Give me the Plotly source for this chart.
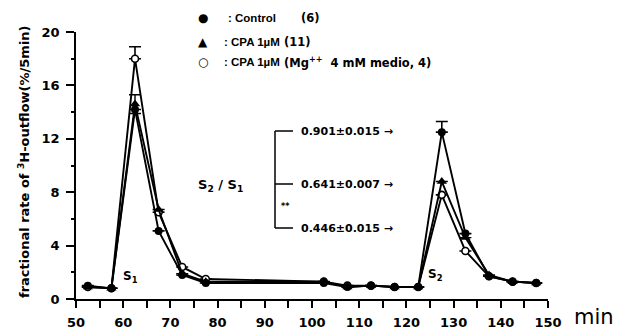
import plotly.graph_objects as go

# ---- data ----
times = [52.5, 57.5, 62.5, 67.5, 72.5, 77.5, 102.5, 107.5, 112.5, 117.5, 122.5, 127.5, 132.5, 137.5, 142.5, 147.5]
control = [1.0, 0.8, 14.2, 5.1, 1.8, 1.2, 1.2, 0.9, 1.0, 0.9, 0.9, 12.5, 4.9, 1.7, 1.3, 1.2]
cpa = [0.9, 0.8, 14.6, 6.7, 1.9, 1.3, 1.3, 0.9, 1.0, 0.9, 0.9, 8.8, 4.6, 1.8, 1.3, 1.2]
cpa_mg = [0.9, 0.8, 18.0, 6.5, 2.4, 1.5, 1.3, 1.0, 1.0, 0.9, 0.9, 7.8, 3.6, 1.7, 1.3, 1.2]
control_err = [0, 0, 0, 0, 0, 0, 0, 0, 0, 0, 0, 0.8, 0, 0, 0, 0]
cpa_err = [0, 0, 0.7, 0, 0, 0, 0, 0, 0, 0, 0, 0, 0, 0, 0, 0]
cpa_mg_err = [0, 0, 0.9, 0, 0, 0, 0, 0, 0, 0, 0, 0, 0, 0, 0, 0]

legend_labels = [": Control", ": CPA 1\u00b5M", ": CPA 1\u00b5M"]
legend_n = ["(6)", "(11)", "(Mg<sup>++</sup>  4 mM medio, 4)"]
ratio_labels = ["0.901\u00b10.015 \u2192", "0.641\u00b10.007 \u2192", "0.446\u00b10.015 \u2192"]

x_ticks = [50, 60, 70, 80, 90, 100, 110, 120, 130, 140, 150]
y_ticks = [0, 4, 8, 12, 16, 20]

FONT = "DejaVu Sans"
FONT2 = "Liberation Sans"
L, R, T, B = 76, 79, 32, 31
W, H = 627, 330
PW, PH = W - L - R, H - T - B


def px(x):
    return (x - L) / PW


def py(y):
    return (H - B - y) / PH


fig = go.Figure()

fig.add_trace(go.Scatter(
    x=times, y=cpa_mg, mode="lines+markers",
    line=dict(color="black", width=1.9),
    marker=dict(symbol="circle", size=7, color="white", line=dict(color="black", width=1.6)),
    error_y=dict(type="data", array=cpa_mg_err, arrayminus=[0] * len(times), color="black", thickness=1.6, width=6),
    showlegend=False, cliponaxis=False,
))
fig.add_trace(go.Scatter(
    x=times, y=cpa, mode="lines+markers",
    line=dict(color="black", width=1.9),
    marker=dict(symbol="triangle-up", size=9, color="black"),
    error_y=dict(type="data", array=cpa_err, color="black", thickness=1.4, width=6),
    showlegend=False, cliponaxis=False,
))
fig.add_trace(go.Scatter(
    x=times, y=control, mode="lines+markers",
    line=dict(color="black", width=1.9),
    marker=dict(symbol="circle", size=8, color="black"),
    error_y=dict(type="data", array=control_err, arrayminus=[0] * len(times), color="black", thickness=1.6, width=6),
    showlegend=False, cliponaxis=False,
))

ann = []
shapes = []

# legend
sym = ["\u25cf", "\u25b2", "\u25cb"]
rows = [18, 42, 62]
lab_x = [226, 222, 222]
n_x = [299, 282, 282]
for s, lab, n, yy, lx, nx in zip(sym, legend_labels, legend_n, rows, lab_x, n_x):
    ann.append(dict(x=px(203), y=py(yy), xref="paper", yref="paper", text="<b>" + s + "</b>", showarrow=False,
                    font=dict(family=FONT, size=12, color="black"), xanchor="center", yanchor="middle"))
    ann.append(dict(x=px(lx), y=py(yy), xref="paper", yref="paper", text="<b>" + lab + "</b>", showarrow=False,
                    font=dict(family=FONT2, size=11.5, color="black"), xanchor="left", yanchor="middle"))
    ann.append(dict(x=px(nx), y=py(yy), xref="paper", yref="paper", text="<b>" + n + "</b>", showarrow=False,
                    font=dict(family=FONT, size=11.5, color="black"), xanchor="left", yanchor="middle"))

# S2/S1 bracket
bx = 275
bys = [131, 184, 228]
shapes.append(dict(type="line", xref="paper", yref="paper", x0=px(bx), x1=px(bx), y0=py(bys[0]), y1=py(bys[-1]),
                   line=dict(color="black", width=1.5)))
for yy, lab in zip(bys, ratio_labels):
    shapes.append(dict(type="line", xref="paper", yref="paper", x0=px(bx), x1=px(293), y0=py(yy), y1=py(yy),
                       line=dict(color="black", width=1.5)))
    ann.append(dict(x=px(299), y=py(yy), xref="paper", yref="paper", text="<b>" + lab + "</b>", showarrow=False,
                    font=dict(family=FONT, size=11, color="black"), xanchor="left", yanchor="middle"))
ann.append(dict(x=px(279), y=py(206), xref="paper", yref="paper", text="<b>**</b>", showarrow=False,
                font=dict(family=FONT, size=8, color="black"), xanchor="left", yanchor="middle"))
ann.append(dict(x=px(220), y=py(185), xref="paper", yref="paper",
                text="<b>S<sub>2</sub> / S<sub>1</sub></b>", showarrow=False,
                font=dict(family=FONT, size=13, color="black"), xanchor="center", yanchor="middle"))

# S1, S2 markers
ann.append(dict(x=px(130), y=py(277), xref="paper", yref="paper", text="<b>S<sub>1</sub></b>", showarrow=False,
                font=dict(family=FONT, size=12, color="black"), xanchor="center", yanchor="middle"))
ann.append(dict(x=px(435), y=py(275), xref="paper", yref="paper", text="<b>S<sub>2</sub></b>", showarrow=False,
                font=dict(family=FONT, size=12, color="black"), xanchor="center", yanchor="middle"))

# axis titles
ann.append(dict(x=px(24), y=py(162), xref="paper", yref="paper",
                text="<b>fractional rate of <sup>3</sup>H-outflow(%/5min)</b>", showarrow=False, textangle=-90,
                font=dict(family=FONT, size=13, color="black"), xanchor="center", yanchor="middle"))
ann.append(dict(x=px(572), y=py(317), xref="paper", yref="paper", text="min", showarrow=False,
                font=dict(family=FONT, size=21, color="black"), xanchor="left", yanchor="middle"))

fig.update_layout(
    width=W, height=H,
    margin=dict(l=L, r=R, t=T, b=B),
    paper_bgcolor="white", plot_bgcolor="white",
    annotations=ann, shapes=shapes,
    xaxis=dict(range=[50, 150], tickvals=x_ticks, ticktext=["<b>%d</b>" % v for v in x_ticks],
               ticks="outside", ticklen=7, tickwidth=1.5, tickcolor="black", ticklabelstandoff=4,
               minor=dict(dtick=5, tick0=50, ticks="outside", ticklen=7, tickwidth=1.5, tickcolor="black"),
               showline=True, linecolor="black", linewidth=1.5, showgrid=False, zeroline=False,
               automargin=False,
               tickfont=dict(family=FONT, size=13, color="black")),
    yaxis=dict(range=[0, 20], tickvals=y_ticks, ticktext=["<b>%d</b>" % v for v in y_ticks],
               ticks="outside", ticklen=8, tickwidth=1.5, tickcolor="black", ticklabelstandoff=4,
               minor=dict(dtick=2, tick0=0, ticks="outside", ticklen=3, tickwidth=1.5, tickcolor="black"),
               showline=True, linecolor="black", linewidth=1.5, showgrid=False, zeroline=False,
               automargin=False,
               tickfont=dict(family=FONT, size=13, color="black")),
)

fig.write_html("out.html", config={"displayModeBar": False},
               post_script="document.body.style.margin='0';")
